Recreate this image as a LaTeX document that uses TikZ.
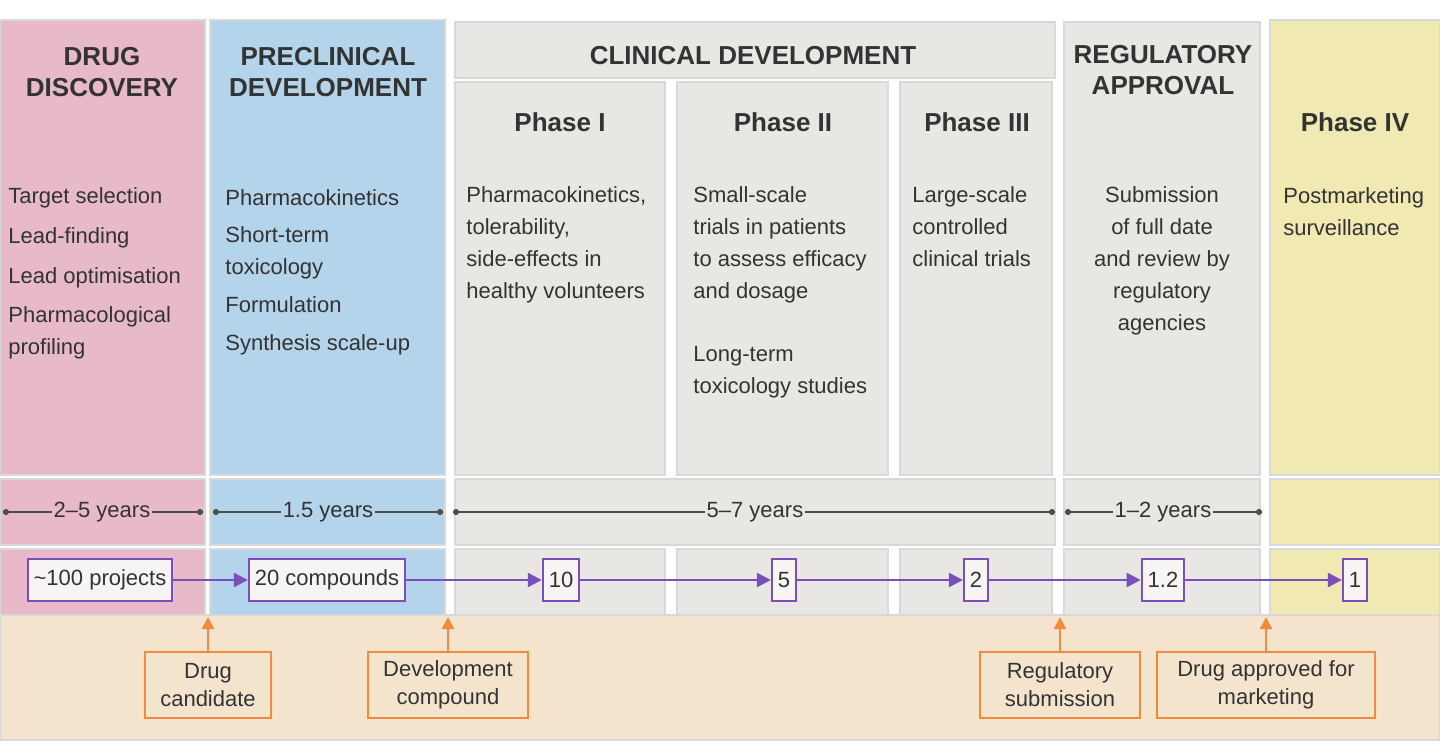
\documentclass[tikz,border=0pt]{standalone}
\usepackage{fontspec}
\setmainfont{Liberation Sans}
\usetikzlibrary{arrows.meta}
\definecolor{pk}{HTML}{E7B9C9}
\definecolor{bl}{HTML}{B3D4EA}
\definecolor{gr}{HTML}{E9E7E3}
\definecolor{yl}{HTML}{F1E9B2}
\definecolor{bg}{HTML}{F4E4CE}
\definecolor{pu}{HTML}{7A4FB9}
\definecolor{or}{HTML}{F08A3C}
\definecolor{tx}{HTML}{333333}
\begin{document}
\begin{tikzpicture}[x=0.5pt,y=-0.5pt,
  cell/.style={draw=black!15,line width=0.6pt},
  head/.style={font=\fontsize{13}{15.5}\selectfont\bfseries,text=tx,align=center},
  body/.style={font=\fontsize{11}{16}\selectfont,text=tx,align=left,inner sep=0pt},
  cnt/.style={draw=pu,line width=1pt,fill=white!60!gr,font=\fontsize{11}{12}\selectfont,text=tx,inner sep=3pt,minimum height=21pt},
  obox/.style={draw=or,line width=1pt,fill=bg,font=\fontsize{11}{14}\selectfont,text=tx,align=center,minimum height=33pt},
  parr/.style={pu,line width=1.2pt,-{Triangle[length=7pt,width=7pt]}},
  oarr/.style={or,line width=1.2pt,-{Triangle[length=6pt,width=6pt]}},
  yarr/.style={black!70,line width=0.8pt,{Circle[length=3pt]}-{Circle[length=3pt]}},
  yr/.style={font=\fontsize{11}{12}\selectfont,text=tx,fill=#1,inner sep=1pt}]
\useasboundingbox (0,0) rectangle (1440,745);
\fill[white] (0,0) rectangle (1440,745);
% bottom band
\fill[bg,cell] (0,615) rectangle (1440,740);
% columns: main panels
\fill[pk,cell] (0,20) rectangle (205,475);
\fill[bl,cell] (210,20) rectangle (445,475);
\fill[gr,cell] (455,22) rectangle (1055,78);
\fill[gr,cell] (455,82) rectangle (665,475);
\fill[gr,cell] (677,82) rectangle (888,475);
\fill[gr,cell] (900,82) rectangle (1052,475);
\fill[gr,cell] (1064,22) rectangle (1260,475);
\fill[yl,cell] (1270,20) rectangle (1440,475);
% years row
\fill[pk,cell] (0,479) rectangle (205,545);
\fill[bl,cell] (210,479) rectangle (445,545);
\fill[gr,cell] (455,479) rectangle (1055,545);
\fill[gr,cell] (1064,479) rectangle (1260,545);
\fill[yl,cell] (1270,479) rectangle (1440,545);
% counts row
\fill[pk,cell] (0,549) rectangle (205,615);
\fill[bl,cell] (210,549) rectangle (445,615);
\fill[gr,cell] (455,549) rectangle (665,615);
\fill[gr,cell] (677,549) rectangle (888,615);
\fill[gr,cell] (900,549) rectangle (1052,615);
\fill[gr,cell] (1064,549) rectangle (1260,615);
\fill[yl,cell] (1270,549) rectangle (1440,615);
% headings
\node[head] (h1) at (102,72) {DRUG\\DISCOVERY};
\node[head] (h2) at (328,72) {PRECLINICAL\\DEVELOPMENT};
\node[head] (h3) at (753,56) {CLINICAL DEVELOPMENT};
\node[head] (h4) at (560,122) {Phase I};
\node[head] (h5) at (783,122) {Phase II};
\node[head] (h6) at (977,122) {Phase III};
\node[head] (h7) at (1163,70) {REGULATORY\\APPROVAL};
\node[head] (h8) at (1355,122) {Phase IV};
% body text
\node[body,anchor=west] (d1) at (8,198) {Target selection};
\node[body,anchor=west] (d2) at (8,238) {Lead-finding};
\node[body,anchor=west] (d3) at (8,278) {Lead optimisation};
\node[body,anchor=north west] (d4) at (8,306) {Pharmacological\\profiling};
\node[body,anchor=west] (p1) at (225,198) {Pharmacokinetics};
\node[body,anchor=north west] (p2) at (225,226) {Short-term\\toxicology};
\node[body,anchor=west] (p3) at (225,305) {Formulation};
\node[body,anchor=west] (p4) at (225,345) {Synthesis scale-up};
\node[body,anchor=north west] (c1) at (466,186) {Pharmacokinetics,\\tolerability,\\side-effects in\\healthy volunteers};
\node[body,anchor=north west] (c2) at (693,186) {Small-scale\\trials in patients\\to assess efficacy\\and dosage};
\node[body,anchor=north west] (c3) at (693,346) {Long-term\\toxicology studies};
\node[body,anchor=north west] (c4) at (912,186) {Large-scale\\controlled\\clinical trials};
\node[body,anchor=north,align=center] (r1) at (1162,186) {Submission\\of full date\\and review by\\regulatory\\agencies};
\node[body,anchor=north west] (f1) at (1283,187) {Postmarketing\\surveillance};
% years
\coordinate (ya1) at (3,512); \coordinate (yb1) at (203,512);
\coordinate (ya2) at (213,512); \coordinate (yb2) at (443,512);
\coordinate (ya3) at (453,512); \coordinate (yb3) at (1055,512);
\coordinate (ya4) at (1065,512); \coordinate (yb4) at (1262,512);
\draw[yarr] (ya1) -- (yb1);
\draw[yarr] (ya2) -- (yb2);
\draw[yarr] (ya3) -- (yb3);
\draw[yarr] (ya4) -- (yb4);
\node[yr=pk] (y1) at (102,512) {2–5 years};
\node[yr=bl] (y2) at (328,512) {1.5 years};
\node[yr=gr] (y3) at (755,512) {5–7 years};
\node[yr=gr] (y4) at (1163,512) {1–2 years};
% counts
\node[cnt] (n1) at (100,580) {\textasciitilde 100 projects};
\node[cnt] (n2) at (327,580) {20 compounds};
\node[cnt] (n3) at (561,580) {10};
\node[cnt] (n4) at (784,580) {5};
\node[cnt] (n5) at (976,580) {2};
\node[cnt] (n6) at (1163,580) {1.2};
\node[cnt] (n7) at (1355,580) {1};
\draw[parr] (n1) -- (n2);
\draw[parr] (n2) -- (n3);
\draw[parr] (n3) -- (n4);
\draw[parr] (n4) -- (n5);
\draw[parr] (n5) -- (n6);
\draw[parr] (n6) -- (n7);
% milestones
\node[obox,minimum width=63pt] (m1) at (208,685) {Drug\\candidate};
\node[obox,minimum width=80pt] (m2) at (448,685) {Development\\compound};
\node[obox,minimum width=80pt] (m3) at (1060,685) {Regulatory\\submission};
\node[obox,minimum width=109pt] (m4) at (1266,685) {Drug approved for\\marketing};
\coordinate (t1) at (208,617); \coordinate (t2) at (448,617);
\coordinate (t3) at (1060,617); \coordinate (t4) at (1266,617);
\draw[oarr] (m1) -- (t1);
\draw[oarr] (m2) -- (t2);
\draw[oarr] (m3) -- (t3);
\draw[oarr] (m4) -- (t4);
\end{tikzpicture}
\end{document}
